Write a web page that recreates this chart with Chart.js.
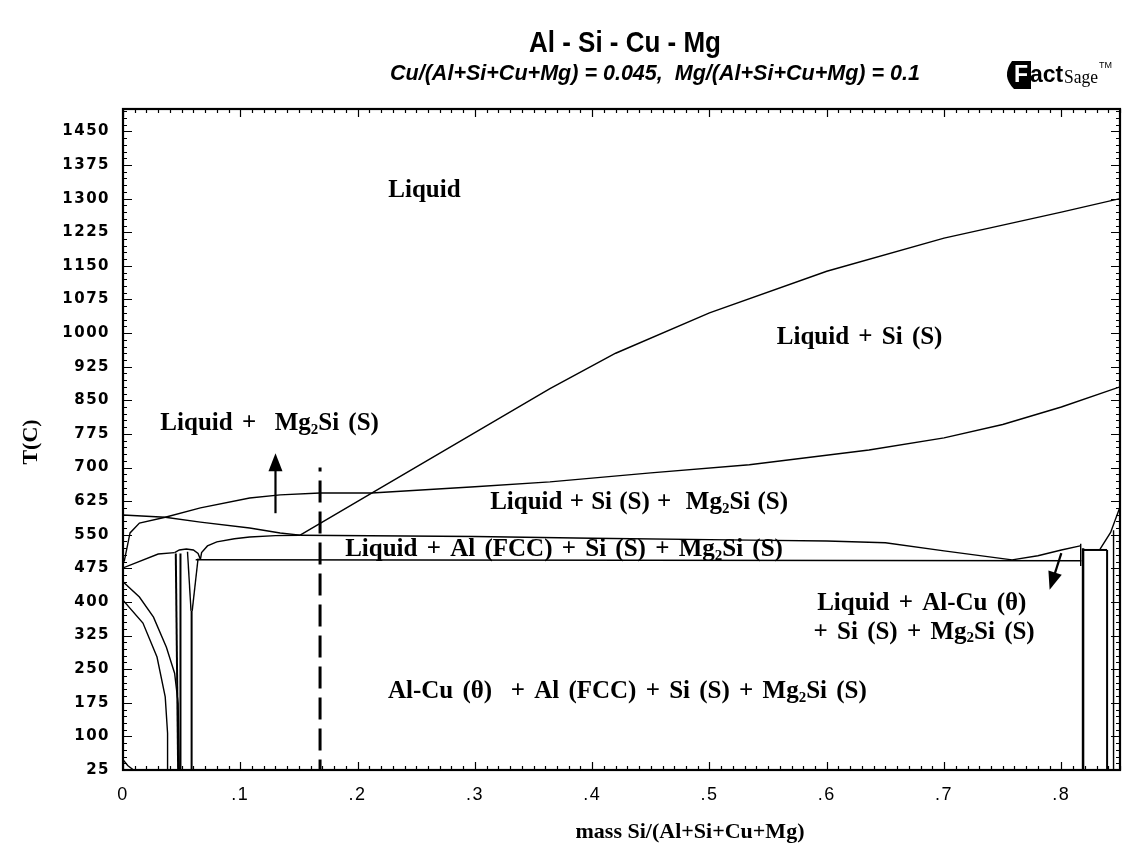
<!DOCTYPE html>
<html>
<head>
<meta charset="utf-8">
<title>Al - Si - Cu - Mg</title>
<script src="https://cdn.jsdelivr.net/npm/chart.js@4.4.1/dist/chart.umd.min.js"></script>
<style>
  html, body { margin: 0; padding: 0; background: #fff; }
  #wrap { width: 1129px; height: 852px; }
</style>
</head>
<body>
<div id="wrap"><canvas id="phase" width="1129" height="852"></canvas></div>
<script>
// axes: mass fraction Si vs temperature in C
const xTicks = [0, 0.1, 0.2, 0.3, 0.4, 0.5, 0.6, 0.7, 0.8];
const xTickLabels = ["0", ".1", ".2", ".3", ".4", ".5", ".6", ".7", ".8"];
const tTicks = [25, 100, 175, 250, 325, 400, 475, 550, 625, 700, 775, 850, 925, 1000, 1075, 1150, 1225, 1300, 1375, 1450];
const tTickLabels = ["25", "100", "175", "250", "325", "400", "475", "550", "625", "700", "775", "850", "925", "1000", "1075", "1150", "1225", "1300", "1375", "1450"];

// phase boundaries, [x, T]
const siLiquidus = [[0.151, 549], [0.212, 643], [0.30, 778], [0.364, 876], [0.42, 955], [0.50, 1045], [0.60, 1138], [0.70, 1212], [0.80, 1270], [0.85, 1300]];
const siMg2SiLine = [[0.212, 643], [0.30, 657], [0.364, 668], [0.45, 688], [0.534, 706], [0.636, 739], [0.70, 766], [0.75, 796], [0.80, 835], [0.85, 880]];
const mg2SiLiquidus = [[0.001, 490], [0.006, 554], [0.014, 576], [0.036, 589], [0.066, 610], [0.108, 632], [0.134, 639], [0.168, 643], [0.212, 643]];
const alLiqMg2Si = [[0, 594], [0.036, 589], [0.066, 578], [0.108, 565], [0.134, 554], [0.151, 549]];
const ternaryLine = [[0.151, 549], [0.30, 546], [0.40, 542], [0.534, 538], [0.60, 536], [0.65, 532], [0.70, 514], [0.758, 494]];
const ternaryRise = [[0.758, 494], [0.78, 503], [0.80, 516], [0.816, 525]];
const alLiquidus = [[0.066, 495], [0.067, 510], [0.072, 525], [0.08, 534], [0.095, 541], [0.108, 545], [0.13, 548], [0.151, 549]];
const quatEutectic = [[0.062, 494], [0.817, 492]];
const leftRise = [[0, 476], [0.03, 507], [0.044, 510]];
const bump = [[0.044, 510], [0.048, 516], [0.054, 518], [0.06, 516], [0.064, 508], [0.066, 495]];
const bumpLeftA = [[0.045, 508], [0.047, 25]];
const bumpLeftB = [[0.049, 508], [0.049, 25]];
const bumpRightA = [[0.055, 512], [0.058, 380]];
const bumpRightB = [[0.064, 497], [0.059, 380]];
const bumpRightV = [[0.0585, 380], [0.0585, 25]];
const solvusOuter = [[0, 445], [0.014, 411], [0.026, 366], [0.037, 299], [0.044, 241], [0.047, 174], [0.048, 25]];
const solvusInner = [[0, 404], [0.017, 353], [0.029, 277], [0.036, 188], [0.038, 107], [0.038, 25]];
const cornerCurve = [[0, 48], [0.004, 35], [0.009, 25]];
const rightTick = [[0.8165, 530], [0.8165, 480]];
const rightVertA = [[0.8185, 520], [0.8185, 25]];
const rightBoxTop = [[0.8185, 516], [0.839, 516]];
const rightVertB = [[0.839, 516], [0.839, 25]];
const rightRise = [[0.833, 518], [0.842, 555], [0.85, 612]];
const rightVertC = [[0.8445, 560], [0.8445, 25]];
const sectionLine = [[0.168, 700], [0.168, 25]];

const curves = [
  { pts: siLiquidus }, { pts: siMg2SiLine }, { pts: mg2SiLiquidus }, { pts: alLiqMg2Si },
  { pts: ternaryLine }, { pts: ternaryRise }, { pts: alLiquidus }, { pts: quatEutectic },
  { pts: leftRise }, { pts: bump }, { pts: bumpLeftA, w: 2 }, { pts: bumpLeftB, w: 2 },
  { pts: bumpRightA }, { pts: bumpRightB }, { pts: bumpRightV, w: 2 },
  { pts: solvusOuter }, { pts: solvusInner }, { pts: cornerCurve },
  { pts: rightTick }, { pts: rightVertA, w: 2.5 }, { pts: rightBoxTop, w: 2 }, { pts: rightVertB, w: 2 },
  { pts: rightRise }, { pts: rightVertC },
  { pts: sectionLine, w: 3, dash: [22, 9], dashOffset: 18 }
];

// region names, "_2" marks a subscript digit
const regionLabels = [
  { text: "Liquid", x: 0.257, t: 1319 },
  { text: "Liquid + Si (S)", x: 0.628, t: 989 },
  { text: "Liquid +  Mg_2Si (S)", x: 0.125, t: 797 },
  { text: "Liquid + Si (S) +  Mg_2Si (S)", x: 0.44, t: 621 },
  { text: "Liquid + Al (FCC) + Si (S) + Mg_2Si (S)", x: 0.376, t: 516 },
  { text: "Liquid + Al-Cu (\u03B8)", x: 0.681, t: 397 },
  { text: "+ Si (S) + Mg_2Si (S)", x: 0.683, t: 332 },
  { text: "Al-Cu (\u03B8)  + Al (FCC) + Si (S) + Mg_2Si (S)", x: 0.43, t: 199 }
];
const arrows = [
  { from: [0.130, 598], to: [0.130, 732] },
  { from: [0.800, 509], to: [0.790, 427] }
];

function drawRich(ctx, text, cx, cy, size, spacing) {
  const parts = text.split(/_(\d)/);
  const main = `bold ${size}px "Liberation Serif", "Times New Roman", serif`;
  const sub = `bold ${Math.round(size * 0.6)}px "Liberation Serif", "Times New Roman", serif`;
  ctx.wordSpacing = spacing + "px";
  let total = 0;
  parts.forEach((p, i) => { ctx.font = i % 2 ? sub : main; total += ctx.measureText(p).width; });
  let x = cx - total / 2;
  ctx.textBaseline = "middle";
  ctx.textAlign = "left";
  parts.forEach((p, i) => {
    ctx.font = i % 2 ? sub : main;
    ctx.fillText(p, x, i % 2 ? cy + size * 0.24 : cy);
    x += ctx.measureText(p).width;
  });
  ctx.wordSpacing = "0px";
}

const frameTicks = {
  id: "frameTicks",
  beforeDraw(chart) { chart.ctx.letterSpacing = "1.5px"; },
  beforeDatasetsDraw(chart) { chart.ctx.letterSpacing = "0px"; },
  afterDraw(chart) {
    const { ctx, chartArea: a, scales: { x, y } } = chart;
    ctx.save();
    ctx.strokeStyle = "#000";
    ctx.lineWidth = 1.2;
    ctx.beginPath();
    for (let k = 0; k <= 85; k++) {
      const px = Math.round(x.getPixelForValue(k / 100)) + 0.5;
      const len = k % 10 === 0 ? 8 : 4;
      ctx.moveTo(px, a.bottom); ctx.lineTo(px, a.bottom - len);
      ctx.moveTo(px, a.top); ctx.lineTo(px, a.top + len);
    }
    for (let t = 25; t <= 1500; t += 15) {
      const py = Math.round(y.getPixelForValue(t)) + 0.5;
      const len = (t - 25) % 75 === 0 ? 9 : 4;
      ctx.moveTo(a.left, py); ctx.lineTo(a.left + len, py);
      ctx.moveTo(a.right, py); ctx.lineTo(a.right - len, py);
    }
    ctx.stroke();
    ctx.lineWidth = 2.2;
    ctx.strokeRect(a.left, a.top, a.right - a.left, a.bottom - a.top);

    // region names
    ctx.fillStyle = "#000";
    regionLabels.forEach((l, i) => drawRich(ctx, l.text, x.getPixelForValue(l.x), y.getPixelForValue(l.t), 25, i === 3 ? 1 : 3));

    // arrows
    arrows.forEach(ar => {
      const x0 = x.getPixelForValue(ar.from[0]), y0 = y.getPixelForValue(ar.from[1]);
      const x1 = x.getPixelForValue(ar.to[0]), y1 = y.getPixelForValue(ar.to[1]);
      const ang = Math.atan2(y1 - y0, x1 - x0);
      ctx.lineWidth = 2.2;
      ctx.beginPath(); ctx.moveTo(x0, y0); ctx.lineTo(x1 - 12 * Math.cos(ang), y1 - 12 * Math.sin(ang)); ctx.stroke();
      ctx.beginPath();
      ctx.moveTo(x1, y1);
      ctx.lineTo(x1 - 18 * Math.cos(ang) + 7 * Math.sin(ang), y1 - 18 * Math.sin(ang) - 7 * Math.cos(ang));
      ctx.lineTo(x1 - 18 * Math.cos(ang) - 7 * Math.sin(ang), y1 - 18 * Math.sin(ang) + 7 * Math.cos(ang));
      ctx.closePath(); ctx.fill();
    });

    // titles
    ctx.textAlign = "center";
    ctx.textBaseline = "middle";
    ctx.font = 'bold 30px "Liberation Sans", Arial, sans-serif';
    ctx.fillText("Al - Si - Cu - Mg", 625, 44, 192);
    ctx.font = 'italic bold 22px "Liberation Sans", Arial, sans-serif';
    ctx.fillText("Cu/(Al+Si+Cu+Mg) = 0.045,  Mg/(Al+Si+Cu+Mg) = 0.1", 655, 74, 530);

    // axis titles
    ctx.font = 'bold 22px "Liberation Serif", "Times New Roman", serif';
    ctx.fillText("mass Si/(Al+Si+Cu+Mg)", 690, 832);
    ctx.save();
    ctx.translate(31, 442);
    ctx.rotate(-Math.PI / 2);
    ctx.fillText("T(C)", 0, 0);
    ctx.restore();

    // FactSage mark
    ctx.beginPath();
    ctx.moveTo(1012, 61); ctx.lineTo(1031, 61); ctx.lineTo(1031, 89); ctx.lineTo(1014, 89);
    ctx.quadraticCurveTo(1001, 76, 1012, 61);
    ctx.fill();
    ctx.fillStyle = "#fff";
    ctx.font = 'bold 23px "Liberation Sans", Arial, sans-serif';
    ctx.textAlign = "left";
    ctx.fillText("F", 1014, 76);
    ctx.fillStyle = "#000";
    ctx.fillText("act", 1030, 76);
    ctx.font = '19px "Liberation Serif", "Times New Roman", serif';
    ctx.fillText("Sage", 1064, 78, 34);
    ctx.font = '9px "Liberation Sans", Arial, sans-serif';
    ctx.fillText("TM", 1099, 66);
    ctx.restore();
  }
};

new Chart(document.getElementById("phase"), {
  type: "scatter",
  data: {
    datasets: curves.map(c => ({
      data: c.pts.map(([x, y]) => ({ x, y })),
      showLine: true,
      borderColor: "#000",
      borderWidth: c.w || 1.4,
      borderDash: c.dash || [],
      borderDashOffset: c.dashOffset || 0,
      pointRadius: 0,
      tension: 0,
      fill: false
    }))
  },
  options: {
    responsive: false,
    animation: false,
    layout: { padding: { top: 109, right: 9, left: 0, bottom: 0 } },
    plugins: { legend: { display: false }, tooltip: { enabled: false } },
    scales: {
      x: {
        type: "linear", min: 0, max: 0.85,
        afterFit: s => { s.height = 82; },
        afterBuildTicks: s => { s.ticks = xTicks.map(v => ({ value: v })); },
        ticks: {
          autoSkip: false, maxRotation: 0, padding: 14, color: "#000",
          font: { family: '"Liberation Sans", Arial, sans-serif', size: 18 },
          callback: (v, i) => xTickLabels[i]
        },
        grid: { display: false, drawTicks: false },
        border: { display: false }
      },
      y: {
        type: "linear", min: 25, max: 1500,
        afterFit: s => { s.width = 123; },
        afterBuildTicks: s => { s.ticks = tTicks.map(v => ({ value: v })); },
        ticks: {
          autoSkip: false, padding: 13, color: "#000",
          font: { family: '"DejaVu Sans", sans-serif', size: 15, weight: "bold" },
          callback: (v, i) => tTickLabels[i]
        },
        grid: { display: false, drawTicks: false },
        border: { display: false }
      }
    }
  },
  plugins: [frameTicks]
});
</script>
</body>
</html>
